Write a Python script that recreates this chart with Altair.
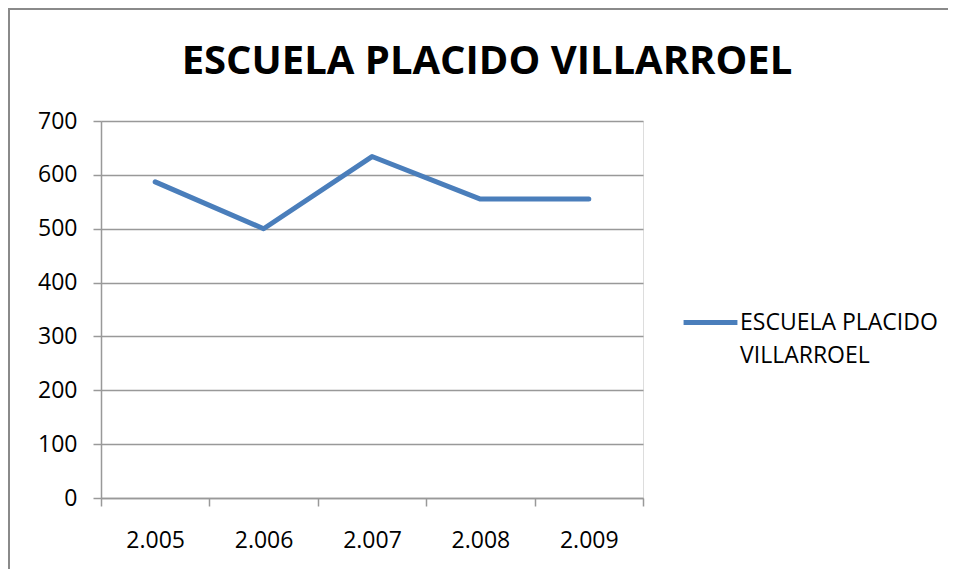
import altair as alt
import pandas as pd

years = ["2.005", "2.006", "2.007", "2.008", "2.009"]
values = [587, 500, 634, 555, 555]
series = "ESCUELA PLACIDO VILLARROEL"
y_ticks = [0, 100, 200, 300, 400, 500, 600, 700]

df = pd.DataFrame({"year": years, "value": values, "serie": [series] * len(years)})

FONT = "Open Sans"
GRID = "#999999"

line = alt.Chart(df).mark_line(strokeWidth=5, strokeCap="round", strokeJoin="round").encode(
    x=alt.X("year:N", sort=years, bandPosition=0.5,
            scale=alt.Scale(type="band", paddingInner=0, paddingOuter=0),
            axis=alt.Axis(title=None, labelAngle=0, tickBand="extent", tickSize=8,
                          labelPadding=23, domainColor=GRID, tickColor=GRID,
                          labelFont=FONT, labelFontSize=23, labelColor="black",
                          domainWidth=1.5, tickWidth=1.5)),
    y=alt.Y("value:Q", scale=alt.Scale(domain=[0, 700], nice=False),
            axis=alt.Axis(title=None, values=y_ticks, tickSize=8, labelPadding=16,
                          grid=True, gridColor=GRID, gridWidth=1.5,
                          domainColor=GRID, tickColor=GRID, domainWidth=1.5, tickWidth=1.5,
                          labelFont=FONT, labelFontSize=23, labelColor="black")),
    color=alt.Color("serie:N", scale=alt.Scale(range=["#4A7EBB"]),
                    legend=alt.Legend(title=None, orient="none", legendX=580, legendY=172,
                                      symbolType="stroke", symbolSize=2900, symbolStrokeWidth=5,
                                      labelFont=FONT, labelFontSize=23, labelColor="black",
                                      labelExpr="['ESCUELA PLACIDO', 'VILLARROEL']",
                                      labelBaseline="middle", labelOffset=0, labelLimit=400)),
)

border = alt.Chart(df).mark_rect(fill=None, stroke="#8a8a8a", strokeWidth=2).encode(
    x=alt.value(-92), x2=alt.value(1000), y=alt.value(-112), y2=alt.value(700)
)

chart = alt.layer(border, line).properties(
    width=542, height=377,
    autosize=alt.AutoSizeParams(type="none"),
    padding={"left": 93, "top": 113, "right": 305, "bottom": 71},
    title=alt.Title(series, font=FONT, fontSize=40, fontWeight="bold", color="black",
                    anchor="middle", frame="group", dx=115, offset=-74),
).configure_view(stroke=None).configure(style={"guide-label": {"lineHeight": 33}})

chart.save("out.html", embed_options={"renderer": "svg", "actions": False})
